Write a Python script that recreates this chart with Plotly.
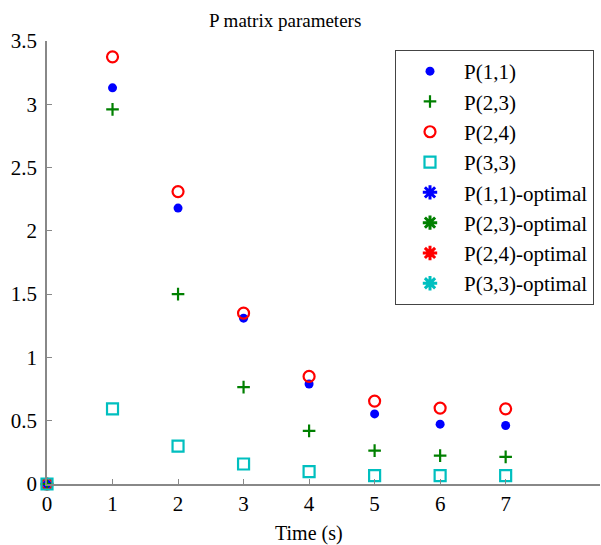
import plotly.graph_objects as go

time_s = [0, 1, 2, 3, 4, 5, 6, 7]
p11 = [0, 3.13, 2.18, 1.31, 0.79, 0.554, 0.473, 0.462]
p23 = [0, 2.96, 1.50, 0.765, 0.42, 0.264, 0.224, 0.214]
p24 = [0, 3.375, 2.31, 1.35, 0.85, 0.655, 0.60, 0.594]
p33 = [0, 0.594, 0.30, 0.158, 0.097, 0.066, 0.066, 0.066]
series_names = ["P(1,1)", "P(2,3)", "P(2,4)", "P(3,3)"]
optimal_names = ["P(1,1)-optimal", "P(2,3)-optimal", "P(2,4)-optimal", "P(3,3)-optimal"]
x_ticks = [0, 1, 2, 3, 4, 5, 6, 7]
y_ticks = [0, 0.5, 1, 1.5, 2, 2.5, 3, 3.5]

BLUE, GREEN, RED, CYAN = "#0000ff", "#008000", "#ff0000", "#00bfbf"
FONT = "Liberation Serif"

fig = go.Figure()
fig.add_trace(go.Scatter(x=time_s, y=p11, mode="markers", name=series_names[0], cliponaxis=False,
                         marker=dict(symbol="circle", size=9, color=BLUE)))
fig.add_trace(go.Scatter(x=time_s, y=p23, mode="markers", name=series_names[1], cliponaxis=False,
                         marker=dict(symbol="cross-thin", size=9, color=GREEN, line=dict(color=GREEN, width=2.2))))
fig.add_trace(go.Scatter(x=time_s, y=p24, mode="markers", name=series_names[2], cliponaxis=False,
                         marker=dict(symbol="circle-open", size=11, color=RED, line=dict(color=RED, width=2.2))))
fig.add_trace(go.Scatter(x=time_s, y=p33, mode="markers", name=series_names[3], cliponaxis=False,
                         marker=dict(symbol="square-open", size=11, color=CYAN, line=dict(color=CYAN, width=2.2))))
for nm, col in zip(optimal_names, [BLUE, GREEN, RED, CYAN]):
    fig.add_trace(go.Scatter(x=[None], y=[None], mode="markers", name=nm,
                             marker=dict(symbol="asterisk-open", size=12, color=col, line=dict(color=col, width=3))))

axis_common = dict(showgrid=False, zeroline=False, showline=True, linecolor="#888888", linewidth=1.5,
                   ticks="inside", ticklen=5, tickcolor="#888888", tickwidth=1, automargin=False,
                   tickfont=dict(family=FONT, size=21, color="black"))
fig.update_xaxes(range=[0, 8.44], tickvals=x_ticks, ticktext=[str(v) for v in x_ticks], **axis_common)
fig.update_yaxes(range=[0, 3.5], tickvals=y_ticks, ticktext=[("%g" % v) for v in y_ticks],
                 ticklabelstandoff=4, **axis_common)

plot_w = 601 - 47 - 1
plot_h = 545 - 41 - 61

fig.update_layout(
    width=601, height=545,
    margin=dict(l=47, r=1, t=41, b=61),
    plot_bgcolor="white", paper_bgcolor="white",
    font=dict(family=FONT, size=20, color="black"),
    showlegend=True,
    legend=dict(x=(395 - 47) / plot_w, y=(484 - 50) / plot_h, xanchor="left", yanchor="top",
                bordercolor="#444444", borderwidth=1, bgcolor="white", itemwidth=58,
                font=dict(family=FONT, size=21), tracegroupgap=0),
    annotations=[
        dict(text="P matrix parameters", x=(285 - 47) / plot_w, y=(484 - 20) / plot_h,
             xref="paper", yref="paper", showarrow=False, yanchor="middle",
             font=dict(family=FONT, size=19)),
        dict(text="Time (s)", x=(309 - 47) / plot_w, y=(484 - 533) / plot_h,
             xref="paper", yref="paper", showarrow=False, yanchor="middle",
             font=dict(family=FONT, size=20)),
    ],
)

fig.write_html("out.html", config={"displayModeBar": False},
               post_script="document.body.style.margin='0px';")
